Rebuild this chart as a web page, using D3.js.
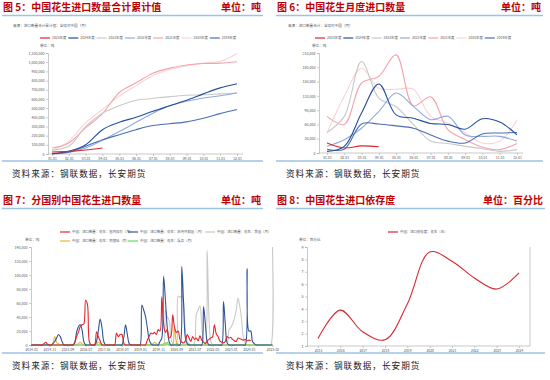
<!DOCTYPE html>
<html><head><meta charset="utf-8">
<script src="https://cdn.jsdelivr.net/npm/d3@7"></script>
<style>body{margin:0;background:#fff}svg{display:block}text{font-family:"Noto Sans CJK SC","Noto Sans",sans-serif}</style>
</head><body><svg id="c" width="550" height="380"></svg>
<script>
// ---------- data ----------
const monthLabels = ["01-01","02-01","03-01","04-01","05-01","06-01","07-01","08-01","09-01","10-01","11-01","12-01"];
const yearNames = ["2025年度","2024年度","2023年度","2022年度","2021年度","2020年度","2019年度"];
// Fig 5 cumulative (tonnes)
const cum2025 = [22000,29000,43000,65000];
const cum2024 = [3000,30000,100000,265000,345000,400000,465000,525000,585000,655000,720000,765000];
const cum2023 = [40000,85000,300000,445000,525000,585000,605000,625000,640000,645000,655000,665000];
const cum2022 = [1000,18000,65000,150000,245000,345000,445000,525000,575000,610000,635000,665000];
const cum2021 = [65000,120000,285000,440000,670000,775000,880000,935000,970000,985000,990000,1005000];
const cum2020 = [40000,140000,340000,485000,630000,745000,855000,920000,960000,990000,1010000,1095000];
const cum2019 = [2000,22000,85000,155000,210000,265000,310000,330000,350000,390000,440000,485000];
const cumTicks = [0,100000,200000,300000,400000,500000,600000,700000,800000,900000,1000000,1100000];
// Fig 6 monthly (tonnes)
const mon2025 = [21000,10500,15000,13000];
const mon2024 = [3500,14000,84000,145000,80000,73000,62000,60000,50000,72000,65000,38000];
const mon2023 = [43000,77000,192000,115000,97000,60000,25000,20000,14000,9000,3500,7000];
const mon2022 = [14000,28000,52000,87000,126000,98000,70000,77000,38000,35000,35000,25000];
const mon2021 = [77000,60000,147000,161000,206000,99000,118000,49000,28000,12000,7000,20000];
const mon2020 = [42000,119000,178000,136000,134000,134000,77000,63000,42000,21000,25000,69000];
const mon2019 = [8000,8000,61000,61000,57000,52000,38000,25000,21000,40000,42000,43000];
const monTicks = [0,30000,60000,90000,120000,150000,180000,210000];
// Fig 7 by country, monthly 2014-01 .. 2025-02 (tonnes)
const countryNames = ["中国：进口数量：花生：塞内加尔（月）","中国：进口数量：花生：苏丹共和国（月）","中国：进口数量：花生：美国（月）","中国：进口数量：花生：阿根廷（月）","中国：进口数量：花生：埃及（月）"];
const cSenegal = [
 0,0,0,0,0,0,0,2000,4000,1000,0,0,
 0,0,0,0,0,0,0,0,0,0,0,0,
 3000,12000,18000,26000,29000,30000,64000,58000,5000,0,0,0,
 19000,12000,6000,0,0,0,0,0,0,0,0,17000,
 12000,15000,15000,3000,0,0,0,0,0,0,0,0,
 0,0,0,0,7000,12000,17000,16000,18000,15000,22000,20000,
 69000,30000,18000,22000,10000,12000,43000,25000,18000,20000,8000,4000,
 3000,6000,15000,10000,5000,12000,8000,10000,6000,13000,7000,4000,
 2000,6000,8000,10000,12000,29000,16000,12000,6000,4000,3000,5000,
 12000,10000,11000,8000,6000,5000,10000,9000,8000,7000,8000,6000,
 7000,6000];
const cSudan = [
 0,0,0,0,0,0,0,0,0,0,0,0,
 2000,5000,10000,15000,12000,5000,0,0,0,0,0,0,
 4000,18000,26000,29000,22000,5000,0,0,0,0,0,0,
 5000,20000,37000,25000,5000,0,0,0,0,0,0,0,
 0,0,0,10000,29000,15000,2000,0,0,0,0,0,
 0,57000,50000,41000,25000,8000,2000,0,0,0,0,5000,
 10000,98000,64000,25000,5000,0,0,0,0,0,0,112000,
 60000,10000,2000,0,0,0,0,0,0,0,0,55000,
 30000,5000,0,0,0,0,0,0,0,0,62000,30000,
 3000,0,0,0,0,0,0,0,0,0,0,109000,
 20000,20000,5000,2000,0,0,0,0,0,0,0,0,
 0,0];
const cUSA = [
 0,0,0,0,0,0,0,0,0,0,0,0,
 0,0,0,0,0,0,0,0,0,0,0,0,
 0,0,0,0,0,0,0,0,0,0,0,0,
 0,0,0,0,0,0,0,0,0,0,0,0,
 0,0,0,0,0,0,0,0,0,0,0,0,
 0,0,0,0,0,0,0,0,0,0,0,0,
 0,0,50000,40000,36000,10000,2000,0,0,70000,68000,70000,
 60000,20000,5000,2000,0,0,2000,43000,50000,56000,29000,5000,
 2000,135000,40000,5000,0,0,0,0,0,0,0,0,
 0,22000,25000,30000,38000,50000,67000,55000,36000,10000,2000,0,
 0,0,0,0,0,0,0,0,0,0,0,0,
 0,140000];
const cArgentina = [
 0,0,0,0,0,0,0,0,0,0,0,0,
 3000,12000,4000,2000,0,0,0,0,0,0,0,0,
 0,0,2000,4000,2000,0,0,0,0,0,0,0,
 2000,4000,2000,0,0,0,0,0,0,0,0,0,
 0,0,0,0,0,0,0,0,0,0,0,0,
 0,0,0,0,0,0,0,2000,4000,2000,0,0,
 0,2000,3000,1000,0,0,0,26000,5000,1000,0,0,
 0,0,0,0,0,0,0,0,0,0,0,0,
 0,0,0,0,0,0,0,0,0,0,0,0,
 0,0,0,0,0,0,0,0,0,0,0,0,
 0,0,0,0,0,0,0,0,0,0,0,0,
 0,0];
const cEgypt = [
 0,0,0,0,0,0,0,0,0,0,0,0,
 0,0,0,0,0,0,0,0,0,0,0,0,
 0,0,0,0,0,0,0,0,0,0,0,0,
 0,0,0,0,0,0,0,0,0,0,0,0,
 0,0,0,0,0,0,0,0,0,0,0,0,
 0,0,0,0,0,0,0,0,0,0,0,0,
 0,0,0,4000,0,0,0,0,2000,0,0,0,
 0,0,0,0,0,0,0,0,0,0,0,0,
 0,0,0,0,0,0,0,0,0,0,0,0,
 0,0,0,0,0,0,0,0,0,0,0,0,
 0,0,0,0,0,0,0,0,0,0,0,0,
 0,0];
const countryXLabels = ["2014-01","2014-11","2015-09","2016-07","2017-05","2018-03","2019-01","2019-11","2020-09","2021-07","2022-05","2023-03","2024-01","2025-02"];
const countryTicks = [0,20000,40000,60000,80000,100000,120000,140000];
// Fig 8 dependency (%)
const depYears = ["2015","2016","2017","2018","2019","2020","2021","2022","2023","2024"];
const depValues = [1.6,3.9,2.15,1.5,4.4,8.6,7.85,6.5,5.6,6.9];
const depTicks = [1,2,3,4,5,6,7,8,9];

// ---------- drawing ----------
const svg = d3.select("#c");
const RED = "#c00000", BLUE_RULE = "#9dc3e6", AX = "#a6a6a6", TXT = "#595959";
const fmt = d3.format(",");

function header(x0, x1, yBase, title, unit) {
  svg.append("text").attr("x", x0+1).attr("y", yBase).attr("fill", RED)
    .attr("font-size", 10).attr("font-weight", "bold").text(title);
  svg.append("text").attr("x", x1-2).attr("y", yBase).attr("fill", RED).attr("text-anchor","end")
    .attr("font-size", 10).attr("font-weight", "bold").text(unit);
  svg.append("line").attr("x1", x0).attr("x2", x1).attr("y1", yBase+4.5).attr("y2", yBase+4.5)
    .attr("stroke", BLUE_RULE).attr("stroke-width", 1.6);
}
function footer(x0, x1, yRule) {
  svg.append("line").attr("x1", x0).attr("x2", x1).attr("y1", yRule).attr("y2", yRule)
    .attr("stroke", BLUE_RULE).attr("stroke-width", 1.6);
  svg.append("text").attr("x", x0+10).attr("y", yRule+16).attr("fill", "#222")
    .attr("font-size", 8.6).attr("letter-spacing", 1).text("资料来源：钢联数据，长安期货");
}
function smallText(x, y, t, opts={}) {
  return svg.append("text").attr("x", x).attr("y", y).attr("fill", opts.fill||TXT)
    .attr("font-size", opts.size||3.6).attr("text-anchor", opts.anchor||"start").text(t);
}
function legend(items, x0, y, step) {
  items.forEach((it, i) => {
    const x = x0 + (it.dx !== undefined ? it.dx : i*step);
    const yy = y + (it.dy||0);
    svg.append("line").attr("x1", x).attr("x2", x+10).attr("y1", yy).attr("y2", yy)
      .attr("stroke", it.color).attr("stroke-width", 1.2);
    smallText(x+12, yy+1.3, it.name, {size:3.4});
  });
}
function yAxis(scale, x, ticks, fmtF) {
  const g = svg.append("g").attr("transform", `translate(${x},0)`)
    .call(d3.axisLeft(scale).tickValues(ticks).tickSize(2).tickPadding(1.5).tickFormat(fmtF));
  g.select(".domain").attr("stroke", AX).attr("stroke-width", 0.6);
  g.selectAll(".tick line").attr("stroke", AX).attr("stroke-width", 0.6);
  g.selectAll(".tick text").attr("fill", TXT).attr("font-size", 3.6).attr("font-family", "Noto Sans, sans-serif");
  return g;
}
function xAxis(scale, y, ticks, x0, x1) {
  const ax = d3.axisBottom(scale).tickSize(2).tickPadding(1.5);
  if (ticks) ax.tickValues(ticks);
  const g = svg.append("g").attr("transform", `translate(0,${y})`).call(ax);
  g.select(".domain").remove();
  g.append("line").attr("x1", x0).attr("x2", x1).attr("stroke", AX).attr("stroke-width", 0.6);
  g.selectAll(".tick line").attr("stroke", AX).attr("stroke-width", 0.6);
  g.selectAll(".tick text").attr("fill", TXT).attr("font-size", 3.4).attr("font-family", "Noto Sans, sans-serif");
  return g;
}

// ===== Panel 5 =====
const yearColors = ["#d7262d","#234f9e","#c9c9c9","#8faadc","#f4a3ab","#f7d4d7","#4a6fb5"];
header(2, 263, 11, "图 5：中国花生进口数量合计累计值", "单位：吨");
smallText(13, 26.5, "来源：进口数量合计累计值：全球对中国（月）", {size:3.6});
legend(yearNames.map((n,i)=>({name:n,color:yearColors[i]})), 40, 38, 28.3);
smallText(40, 47, "单位：吨", {size:3.6});
{
  const x = d3.scalePoint().domain(monthLabels).range([52, 237]);
  const y = d3.scaleLinear().domain([0, 1100000]).range([154, 53]);
  yAxis(y, 48, cumTicks, fmt);
  xAxis(x, 154, null, 48, 243);
  const series = [cum2025,cum2024,cum2023,cum2022,cum2021,cum2020,cum2019];
  const line = d3.line().x((d,i)=>x(monthLabels[i])).y(d=>y(d)).curve(d3.curveMonotoneX);
  const order = [5,4,2,3,6,1,0];
  order.forEach(k => svg.append("path").attr("d", line(series[k])).attr("fill","none")
    .attr("stroke", yearColors[k]).attr("stroke-width", 1.1));
}
footer(2, 263, 161);

// ===== Panel 6 =====
header(276, 543, 11, "图 6：中国花生月度进口数量", "单位：吨");
smallText(288, 26.5, "来源：进口数量合计：全球对中国（月）", {size:3.6});
legend(yearNames.map((n,i)=>({name:n,color:yearColors[i]})), 315, 38, 28.3);
smallText(312, 47, "单位：吨", {size:3.6});
{
  const x = d3.scalePoint().domain(monthLabels).range([327, 517]);
  const y = d3.scaleLinear().domain([0, 210000]).range([153, 53]);
  yAxis(y, 319, monTicks, fmt);
  xAxis(x, 153, null, 319, 523);
  const series = [mon2025,mon2024,mon2023,mon2022,mon2021,mon2020,mon2019];
  const line = d3.line().x((d,i)=>x(monthLabels[i])).y(d=>y(d)).curve(d3.curveCatmullRom.alpha(0.5));
  const order = [5,4,2,3,6,1,0];
  order.forEach(k => svg.append("path").attr("d", line(series[k])).attr("fill","none")
    .attr("stroke", yearColors[k]).attr("stroke-width", 1.1));
}
footer(276, 543, 161);

// ===== Panel 7 =====
const countryColors = ["#e3262c","#2f5597","#c9c9c9","#f0b232","#62e062"];
header(2, 263, 204, "图 7：分国别中国花生进口数量", "单位：吨");
legend([
  {name:countryNames[0], color:countryColors[0], dx:0, dy:0},
  {name:countryNames[1], color:countryColors[1], dx:68, dy:0},
  {name:countryNames[2], color:countryColors[2], dx:145, dy:0},
  {name:countryNames[3], color:countryColors[3], dx:0, dy:9},
  {name:countryNames[4], color:countryColors[4], dx:68, dy:9}
], 60, 232, 0);
smallText(25, 240.5, "单位：吨", {size:3.6});
{
  const n = cSenegal.length;
  const x = d3.scaleLinear().domain([0, n-1]).range([31.2, 250.7]);
  const y = d3.scaleLinear().domain([0, 140000]).range([345, 247]);
  yAxis(y, 31, countryTicks, fmt);
  const tickIdx = countryXLabels.map(l => { const [yy,mm] = l.split("-").map(Number); return (yy-2014)*12 + mm-1; });
  xAxis(x, 345, tickIdx, 31, 252).selectAll(".tick text").text((d,i)=>countryXLabels[i]);
  const series = [cSenegal, cSudan, cUSA, cArgentina, cEgypt];
  const line = d3.line().x((d,i)=>x(i)).y(d=>y(d)).curve(d3.curveCatmullRom.alpha(0.5));
  [2,3,4,1,0].forEach(k => svg.append("path").attr("d", line(series[k])).attr("fill","none")
    .attr("stroke", countryColors[k]).attr("stroke-width", 1.1));
}
footer(2, 263, 353);

// ===== Panel 8 =====
header(276, 545, 204, "图 8：中国花生进口依存度", "单位：百分比");
legend([{name:"中国：进口依存度：花生（年）", color:"#d7262d"}], 388, 232, 0);
smallText(299, 240.5, "单位：百分比", {size:3.6});
{
  const x = d3.scalePoint().domain(depYears).range([318, 519]);
  const y = d3.scaleLinear().domain([1, 9]).range([346, 247]);
  yAxis(y, 307, depTicks, d3.format("d"));
  xAxis(x, 346, null, 307, 530);
  svg.append("line").attr("x1", 530).attr("x2", 530).attr("y1", 247).attr("y2", 346)
    .attr("stroke", AX).attr("stroke-width", 0.6);
  const line = d3.line().x((d,i)=>x(depYears[i])).y(d=>y(d)).curve(d3.curveCatmullRom.alpha(0.5));
  svg.append("path").attr("d", line(depValues)).attr("fill","none")
    .attr("stroke", "#d7262d").attr("stroke-width", 1.1);
}
footer(276, 545, 353);
</script></body></html>
